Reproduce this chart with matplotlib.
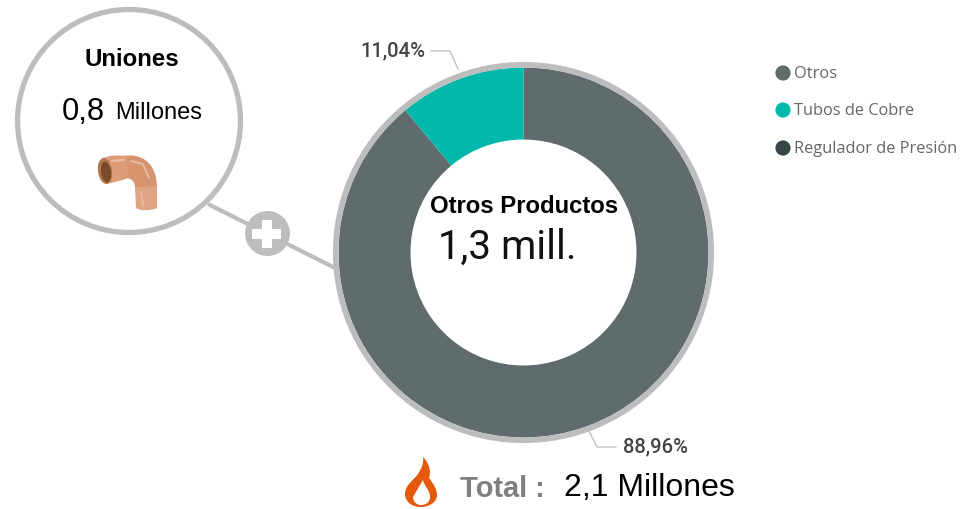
import matplotlib
matplotlib.use("Agg")
import matplotlib.pyplot as plt
from matplotlib.patches import Circle, Ellipse, PathPatch, Rectangle
from matplotlib.path import Path

W, H = 976, 509
categories = ["Otros", "Tubos de Cobre", "Regulador de Presión"]
shares = [88.96, 11.04, 0.0]
share_labels = ["88,96%", "11,04%"]
colors = ["#5F6B6D", "#01B8AA", "#374649"]
center_title = "Otros Productos"
center_value = "1,3 mill."
side_title = "Uniones"
side_value = "0,8"
side_unit = "Millones"
total_label = "Total :"
total_value = "2,1 Millones"

GREY = "#BDBDBD"
AR = "Liberation Sans"
fig = plt.figure(figsize=(W / 100, H / 100), dpi=100, facecolor="white")
ax = fig.add_axes([0, 0, 1, 1])

def Y(y):
    return H - y

def pts(*p):
    return [(x, Y(y)) for x, y in p]

def curve(color, codes, p, z=5, **k):
    ax.add_patch(PathPatch(Path(pts(*p), codes), facecolor=color, edgecolor="none", zorder=z, **k))

# donut
cx, cy = 523.5, 252.5
R, r = 185.0, 113.0
ax.pie(shares, colors=colors, startangle=90, counterclock=False, center=(cx, Y(cy)), radius=R,
       wedgeprops=dict(width=R - r, edgecolor="none"), frame=False)
ax.add_patch(Circle((cx, Y(cy)), 187.8, fill=False, edgecolor=GREY, lw=4.0, zorder=3))

# connector
ax.plot([208, 335], [Y(204), Y(268)], color=GREY, lw=3.0, zorder=1, solid_capstyle="butt")
ax.add_patch(Circle((267.5, Y(233.5)), 22.5, facecolor=GREY, edgecolor="none", zorder=2))
ax.add_patch(Rectangle((252, Y(239)), 29, 10, facecolor="white", edgecolor="none", zorder=3))
ax.add_patch(Rectangle((261.5, Y(248)), 10, 28, facecolor="white", edgecolor="none", zorder=3))

# side bubble
ax.add_patch(Circle((129, Y(121)), 111.5, facecolor="white", edgecolor=GREY, lw=3.8, zorder=2))
ax.text(132, Y(59), side_title, family=AR, weight="bold", fontsize=17.3, color="black",
        ha="center", va="center", zorder=6)
ax.text(62, Y(120), side_value, family=AR, fontsize=22.2, color="black", ha="left", va="baseline", zorder=6)
ax.text(115, Y(119), side_unit, family=AR, fontsize=17, color="black", ha="left", va="baseline", zorder=6)

# copper elbow
C, M, L, E = Path.CURVE4, Path.MOVETO, Path.LINETO, Path.CLOSEPOLY
curve("#D8946F", [M, C, C, C, L, C, C, C, L, E],
      [(124, 156), (138, 153), (157, 160), (157, 188), (135, 188),
       (135, 183), (133, 178), (125, 178), (124, 178), (124, 156)])
curve("#DD9C78", [M, C, C, C, L, C, C, C, E],
      [(101, 159), (108, 155), (118, 155), (127, 156), (128, 178),
       (120, 181), (112, 183), (106, 184), (101, 159)])
curve("#DFA483", [M, L, L, C, C, C, E],
      [(135, 187), (157, 186), (157, 208), (151, 211), (140, 211), (136, 208), (135, 187)])
ax.add_patch(Ellipse((105, Y(171)), 14, 26, angle=8, facecolor="#B5764B", edgecolor="none", zorder=6))
ax.add_patch(Ellipse((106, Y(172)), 10, 21, angle=8, facecolor="#7A4B2B", edgecolor="none", zorder=6))
ax.plot([112, 124], [Y(161), Y(160)], color="#EBBFA6", lw=1.6, zorder=6, solid_capstyle="round")
ax.plot([131, 143, 149], [Y(161), Y(164), Y(178)], color="#E9BA9F", lw=1.4, zorder=6, solid_capstyle="round")
ax.plot([141, 143], [Y(192), Y(206)], color="#E9BA9F", lw=1.4, zorder=6, solid_capstyle="round")

# centre text
ax.text(524, Y(213), center_title, family=AR, weight="bold", fontsize=17.2, color="black",
        ha="center", va="baseline", zorder=6)
ax.text(438, Y(258.5), center_value, family="Roboto", fontsize=29, color="#111111",
        ha="left", va="baseline", zorder=6)

# data labels
ax.text(360, Y(51), share_labels[1], family="Roboto", fontsize=14.6, weight="medium", color="#444444",
        ha="left", va="center", zorder=6)
ax.plot([431, 450, 458], [Y(51), Y(51), Y(69)], color="#BBBBBB", lw=0.9, zorder=4)
ax.text(623, Y(447), share_labels[0], family="Roboto", fontsize=14.6, weight="medium", color="#444444",
        ha="left", va="center", zorder=6)
ax.plot([589, 597, 616], [Y(431), Y(447), Y(447)], color="#BBBBBB", lw=0.9, zorder=4)

# total
ax.text(460, Y(497), total_label, family=AR, weight="bold", fontsize=20.9, color="#7F7F7F",
        ha="left", va="baseline", zorder=6)
ax.text(564, Y(496), total_value, family=AR, fontsize=23, color="black", ha="left", va="baseline", zorder=6)

# flame
curve("#E45A0A", [M] + [C] * 18 + [E],
      [(423, 457), (430, 464), (431, 472), (429, 478), (434, 484), (437, 490), (437, 495),
       (437, 503), (428, 507), (421, 507), (411, 507), (405, 501), (405, 494),
       (405, 485), (413, 481), (418, 474), (421, 469), (424, 464), (423, 457), (423, 457)])
curve("white", [M] + [C] * 9 + [E],
      [(423, 480), (424, 486), (430, 490), (430, 497), (430, 502), (426, 505), (421, 505),
       (416, 505), (413, 501), (413, 497), (423, 480)], z=6)

# legend
for name, col, ly in zip(categories, colors, [73, 110, 148]):
    ax.add_patch(Circle((783, Y(ly)), 7.6, facecolor=col, edgecolor="none", zorder=5))
    ax.text(794, Y(ly + 1), name, family="Open Sans", fontsize=11.8, color="#666666",
            ha="left", va="center", zorder=6)

ax.set_xlim(0, W)
ax.set_ylim(0, H)
ax.set_aspect("auto")
ax.axis("off")
fig.savefig("out.png", dpi=100, facecolor="white")
